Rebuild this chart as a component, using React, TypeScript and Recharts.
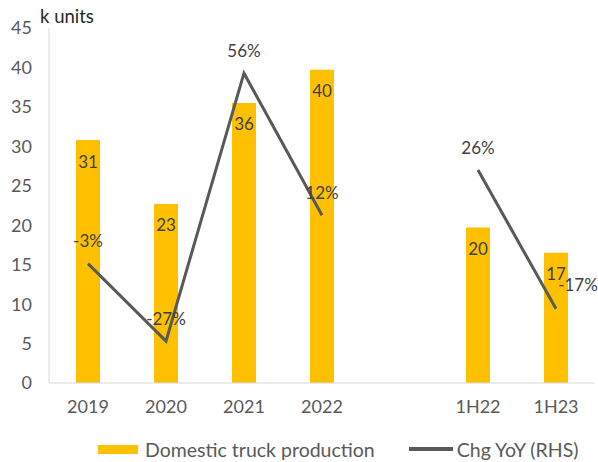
import React from 'react';
import { ComposedChart, Bar, Line, XAxis, YAxis, Legend, LabelList } from 'recharts';

const categories = ['2019', '2020', '2021', '2022', '', '1H22', '1H23'];
const production: (number | null)[] = [30.8, 22.7, 35.5, 39.7, null, 19.7, 16.5];
const yoyChange: (number | null)[] = [-3, -27, 56, 12, null, 26, -17];
const leftTicks = [0, 5, 10, 15, 20, 25, 30, 35, 40, 45];
const seriesNames = ['Domestic truck production', 'Chg YoY (RHS)'];

const data = categories.map((c, i) => ({ cat: c, prod: production[i], yoy: yoyChange[i] }));

const FONT = 'Lato, "Noto Sans", sans-serif';
const BAR_COLOR = '#FFC000';
const LINE_COLOR = '#595959';

const BarLabel = (props: any) => {
  const { x, y, width, value } = props;
  if (value == null) return null;
  return (
    <text x={x + width / 2} y={y + 21} textAnchor="middle" dominantBaseline="central"
      fontSize={17} fontFamily={FONT} fill="#404040">{Math.round(value)}</text>
  );
};

const LineLabel = (props: any) => {
  const { x, y, value, index } = props;
  if (value == null) return null;
  const last = index === categories.length - 1;
  const dx = last ? 22 : 0;
  const dy = last ? -24 : -23;
  return (
    <text x={x + dx} y={y + dy} textAnchor="middle" dominantBaseline="central"
      fontSize={17} fontFamily={FONT} fill="#404040">{`${value}%`}</text>
  );
};

const LegendContent = () => (
  <div style={{ display: 'flex', alignItems: 'center', paddingLeft: 98, height: 30, fontFamily: FONT, fontSize: 19.5, color: '#595959', transform: 'translateY(6px)' }}>
    <div style={{ width: 40, height: 9, background: BAR_COLOR }} />
    <span style={{ marginLeft: 7 }}>{seriesNames[0]}</span>
    <div style={{ width: 44, height: 3.5, background: LINE_COLOR, marginLeft: 34 }} />
    <span style={{ marginLeft: 4 }}>{seriesNames[1]}</span>
  </div>
);

export default function App() {
  return (
    <div style={{ position: 'absolute', left: 0, top: 0, width: 598, height: 462, background: '#fff' }}>
      <div style={{ position: 'absolute', left: 40, top: 5, fontFamily: FONT, fontSize: 18.5, color: '#262626', zIndex: 2 }}>k units</div>
      <ComposedChart width={598} height={462} data={data} margin={{ top: 28, right: 3, left: 0, bottom: 4 }}>
        <XAxis dataKey="cat" axisLine={{ stroke: '#d9d9d9' }} tickLine={false} tickMargin={11} height={45}
          tick={{ fill: '#595959', fontSize: 18, fontFamily: FONT }} interval={0} />
        <YAxis yAxisId="left" domain={[0, 45]} ticks={leftTicks} width={49} axisLine={{ stroke: '#d9d9d9' }}
          tickLine={false} tickMargin={11} tick={{ fill: '#595959', fontSize: 18, fontFamily: FONT }} />
        <YAxis yAxisId="right" orientation="right" domain={[-40, 70]} hide />
        <Bar yAxisId="left" dataKey="prod" name={seriesNames[0]} fill={BAR_COLOR} barSize={24} isAnimationActive={false}>
          <LabelList dataKey="prod" content={BarLabel} />
        </Bar>
        <Line yAxisId="right" dataKey="yoy" name={seriesNames[1]} stroke={LINE_COLOR} strokeWidth={3} dot={false}
          connectNulls={false} isAnimationActive={false}>
          <LabelList dataKey="yoy" content={LineLabel} />
        </Line>
        <Legend verticalAlign="bottom" content={LegendContent} wrapperStyle={{ left: 0, width: 598, height: 30 }} />
      </ComposedChart>
    </div>
  );
}
